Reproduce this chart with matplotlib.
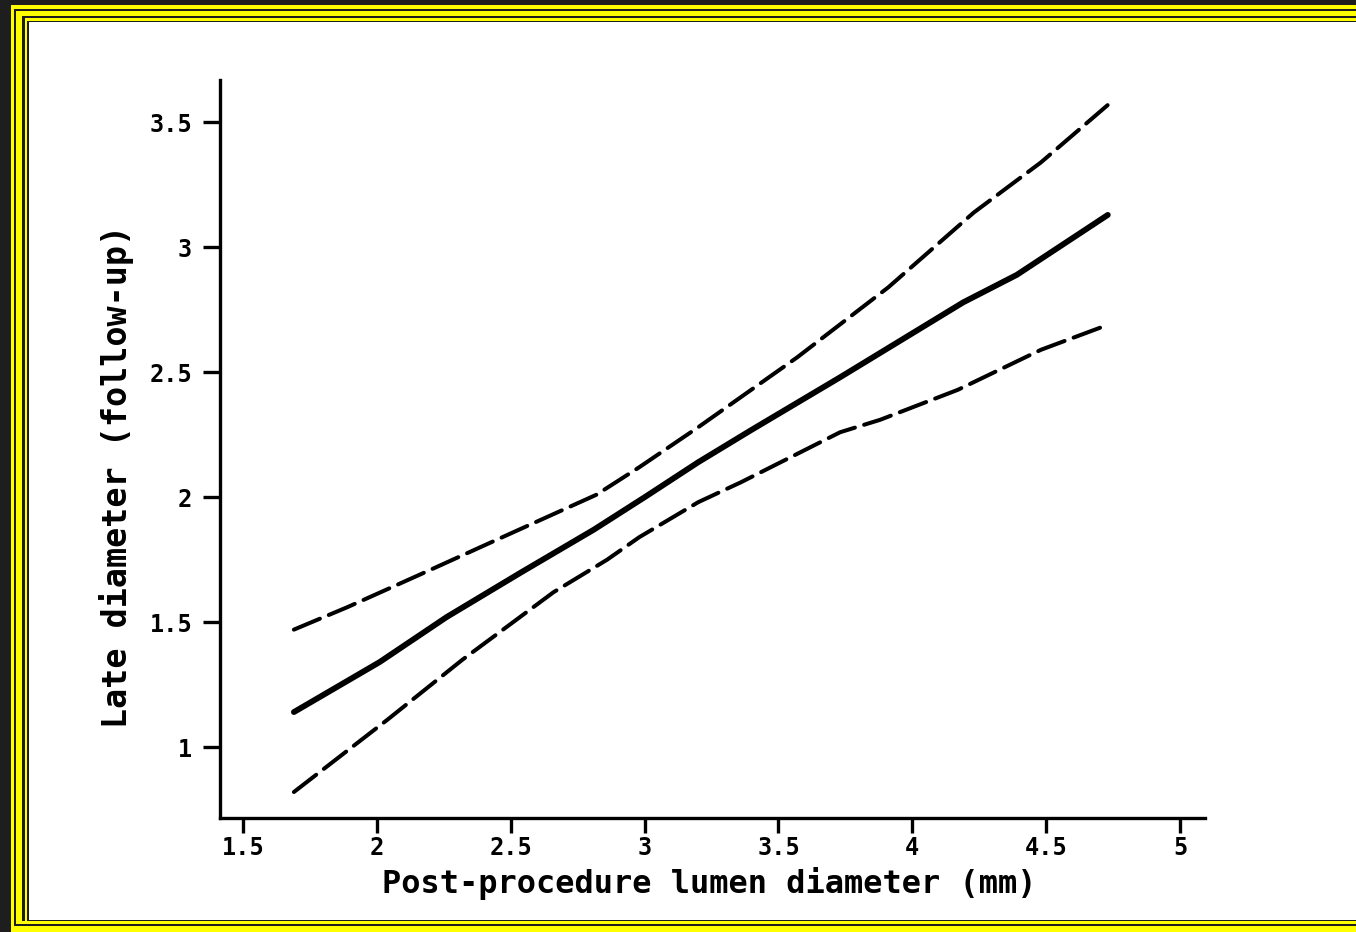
import matplotlib
matplotlib.use("Agg")
import matplotlib.pyplot as plt
from matplotlib.patches import Rectangle

# Data
fit_x = [1.69, 2.01, 2.26, 2.54, 2.81, 3.00, 3.20, 3.40, 3.73, 4.19, 4.39, 4.73]
fit_y = [1.14, 1.34, 1.52, 1.70, 1.87, 2.00, 2.14, 2.27, 2.48, 2.78, 2.89, 3.13]
upper_x = [1.69, 1.89, 2.16, 2.51, 2.82, 2.98, 3.20, 3.57, 3.91, 4.23, 4.48, 4.73]
upper_y = [1.47, 1.56, 1.69, 1.86, 2.01, 2.12, 2.28, 2.56, 2.84, 3.14, 3.34, 3.57]
lower_x = [1.69, 2.04, 2.32, 2.66, 2.86, 2.98, 3.20, 3.36, 3.73, 3.88, 4.17, 4.48, 4.73]
lower_y = [0.82, 1.11, 1.35, 1.62, 1.75, 1.84, 1.98, 2.06, 2.26, 2.31, 2.43, 2.59, 2.69]
x_ticks = [1.5, 2, 2.5, 3, 3.5, 4, 4.5, 5]
x_tick_labels = ["1.5", "2", "2.5", "3", "3.5", "4", "4.5", "5"]
y_ticks = [1, 1.5, 2, 2.5, 3, 3.5]
y_tick_labels = ["1", "1.5", "2", "2.5", "3", "3.5"]
x_label = "Post-procedure lumen diameter (mm)"
y_label = "Late diameter (follow-up)"

W, H = 1356, 932
fig = plt.figure(figsize=(W / 100, H / 100), dpi=100)
fig.patch.set_facecolor("white")

# Decorative frame (left, top, bottom insets in px), drawn outside-in
dark = "#1e1e1e"
yellow = "#ffff00"
layers = [
    (0, 0, 0, dark),
    (11, 5, 0, yellow),
    (14, 9, 6, dark),
    (16, 11, 8, yellow),
    (22, 16, 11, dark),
    (25, 18, 11, yellow),
    (27, 21, 11, dark),
    (29, 22, 12, "white"),
]
for l, t, b, c in layers:
    fig.add_artist(Rectangle((l / W, b / H), (W - l) / W, (H - t - b) / H,
                             transform=fig.transFigure, facecolor=c,
                             edgecolor="none", zorder=-10))

ax = fig.add_axes([220 / W, 1 - 818 / H, (1205 - 220) / W, (818 - 80) / H])
ax.set_facecolor("none")

ax.plot(fit_x, fit_y, color="black", lw=4.2, solid_capstyle="round",
        solid_joinstyle="round")
ax.plot(upper_x, upper_y, color="black", lw=2.9, linestyle=(0, (7, 2.4)),
        dash_capstyle="round", dash_joinstyle="round")
ax.plot(lower_x, lower_y, color="black", lw=2.9, linestyle=(0, (7, 2.4)),
        dash_capstyle="round", dash_joinstyle="round")

ax.set_xlim(1.414, 5.093)
ax.set_ylim(0.716, 3.67)

for s in ["top", "right"]:
    ax.spines[s].set_visible(False)
for s in ["left", "bottom"]:
    ax.spines[s].set_linewidth(2.4)

font = "DejaVu Sans Mono"
ax.set_xticks(x_ticks)
ax.set_xticklabels(x_tick_labels, fontfamily=font, fontweight="bold", fontsize=17)
ax.set_yticks(y_ticks)
ax.set_yticklabels(y_tick_labels, fontfamily=font, fontweight="bold", fontsize=17)
ax.tick_params(axis="x", length=11, width=2.4, pad=2)
ax.tick_params(axis="y", length=12, width=2.4, pad=8)

ax.set_xlabel(x_label, fontfamily=font, fontweight="bold", fontsize=23)
ax.set_ylabel(y_label, fontfamily=font, fontweight="bold", fontsize=24)
ax.xaxis.set_label_coords(0.497, -0.0894)
ax.yaxis.set_label_coords(-0.1046, 0.463)
ax.xaxis.label.set_va("center")
ax.yaxis.label.set_va("center")

fig.savefig("out.png", dpi=100)
